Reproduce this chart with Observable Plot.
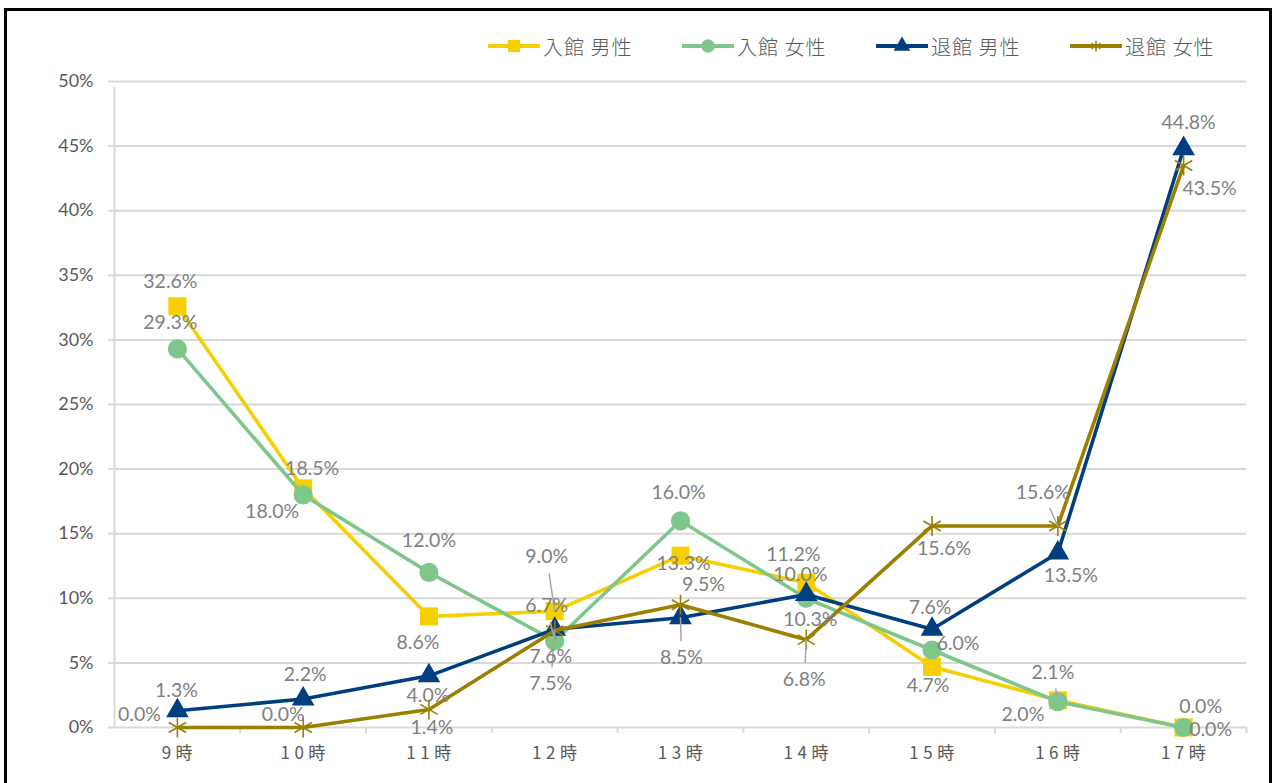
<!DOCTYPE html>
<html><head><meta charset="utf-8">
<script src="https://cdn.jsdelivr.net/npm/d3@7"></script>
<script src="https://cdn.jsdelivr.net/npm/@observablehq/plot@0.6"></script>
<style>
html,body{margin:0;padding:0;background:#fff;}
#page{position:relative;width:1276px;height:783px;overflow:hidden;background:#fff;}
#frame{position:absolute;left:4px;top:8px;width:1268px;height:800px;border:3px solid #000;box-sizing:border-box;pointer-events:none;z-index:2;}
#legend{position:absolute;left:488px;top:34px;height:24px;display:flex;font-family:"Noto Sans CJK JP",sans-serif;font-size:20px;letter-spacing:1px;color:#595959;font-weight:300;}
.item{display:flex;align-items:center;width:194px;white-space:nowrap;}
.item svg{margin-right:3px;}
#chart{position:absolute;left:0;top:60px;}
#chart g[aria-label="x-axis tick label"] text{letter-spacing:4.5px;}
</style></head>
<body><div id="page"><div id="frame"></div><div id="legend"></div><div id="chart"></div></div>
<script>
// ---- data ----
const hours = ["9時","10時","11時","12時","13時","14時","15時","16時","17時"];
const seriesNames = ["入館 男性","入館 女性","退館 男性","退館 女性"];
const inMale    = [32.6, 18.5, 8.6, 9.0, 13.3, 11.2, 4.7, 2.1, 0.0];
const inFemale  = [29.3, 18.0, 12.0, 6.7, 16.0, 10.0, 6.0, 2.0, 0.0];
const outMale   = [1.3, 2.2, 4.0, 7.6, 8.5, 10.3, 7.6, 13.5, 44.8];
const outFemale = [0.0, 0.0, 1.4, 7.5, 9.5, 6.8, 15.6, 15.6, 43.5];
const yTicks = [0, 5, 10, 15, 20, 25, 30, 35, 40, 45, 50];

// ---- styling ----
const colors = ["#F5CF00", "#7EC68A", "#003F7F", "#9A7F00"];
const symbols = ["square", "circle", "triangle", "asterisk"];
const symbolR = [10.2, 9.6, 8.4, 9.5];
// label offsets [dx, dy] in pixels relative to the marker
const labelOffsets = [
  [[-7,-25],[9,-20],[-11,26],[-8,-54],[3,8],[-13,-28],[-4,19],[-5,-28],[17,-21]],
  [[-7,-26],[-31,17],[0,-32],[-8,-35],[-2,-28],[-6,-24],[26,-6],[-35,13],[27,2]],
  [[-1,-20],[2,-24],[-1,20],[-4,27],[1,40],[4,25],[-2,-22],[13,23],[5,-26]],
  [[-38,-13],[-20,-13],[3,18],[-4,53],[23,-20],[-2,40],[12,23],[-15,-33],[26,23]]
];
// leader lines: [series index, hour index]
const leaders = [[0,3],[1,3],[3,3],[2,4],[3,5],[3,7],[0,7]];

const seriesValues = [inMale, inFemale, outMale, outFemale];
const rows = [];
seriesNames.forEach((s, si) => hours.forEach((h, hi) => rows.push({series: s, si, hour: h, hi, value: seriesValues[si][hi]})));

const W = 1276, H = 723, mL = 114, mR = 30, mT = 21, mB = 56;
const bw = (W - mL - mR) / hours.length;
const numFont = "Lato, 'Open Sans', sans-serif";

const marks = [];
marks.push(Plot.gridY(yTicks, {stroke: "#d9d9d9", strokeOpacity: 1, strokeWidth: 2}));
marks.push(Plot.axisY(yTicks, {tickSize: 6, tickPadding: 15, stroke: "#d9d9d9", strokeWidth: 2, fill: "#595959", fontSize: 18, fontFamily: numFont, tickFormat: d => d + "%", label: null}));
// vertical axis line at left edge
marks.push(Plot.ruleX([hours[0]], {y1: 0, y2: 50, dx: -bw/2, insetBottom: -6, stroke: "#d9d9d9", strokeWidth: 2}));
// category boundary ticks
marks.push(Plot.ruleX(hours.slice(1), {y1: 0, y2: 0, dx: -bw/2, insetBottom: -6, stroke: "#d9d9d9", strokeWidth: 2}));
marks.push(Plot.ruleX([hours[hours.length-1]], {y1: 0, y2: 0, dx: bw/2, insetBottom: -6, stroke: "#d9d9d9", strokeWidth: 2}));
marks.push(Plot.axisX({tickSize: 0, tickPadding: 19, fill: "#595959", fontSize: 17, fontFamily: "'Noto Sans CJK JP', sans-serif", label: null, dx: 2}));

seriesNames.forEach((s, si) => {
  const d = rows.filter(r => r.si === si);
  marks.push(Plot.line(d, {x: "hour", y: "value", stroke: colors[si], strokeWidth: 3.6, strokeLinejoin: "round"}));
  if (symbols[si] === "asterisk") {
    marks.push(Plot.dot(d, {x: "hour", y: "value", symbol: "asterisk", r: symbolR[si], stroke: colors[si], strokeWidth: 1.6, fill: "none"}));
  } else {
    marks.push(Plot.dot(d, {x: "hour", y: "value", symbol: symbols[si], r: symbolR[si], fill: colors[si], stroke: "none"}));
  }
});

// leader lines
leaders.forEach(([si, hi]) => {
  const [dx, dy] = labelOffsets[si][hi];
  const dist = Math.hypot(dx, dy);
  const r = rows.find(x => x.si === si && x.hi === hi);
  marks.push(Plot.vector([r], {x: "hour", y: "value", length: Math.max(dist - 17, 4), rotate: Math.atan2(dx, -dy) * 180 / Math.PI, anchor: "start", stroke: "#a6a6a6", strokeWidth: 1.5,
    shape: {draw(context, l) { context.moveTo(0, 0); context.lineTo(0, -l); }}}));
});

// data labels
rows.forEach(r => {
  const [dx, dy] = labelOffsets[r.si][r.hi];
  marks.push(Plot.text([r], {x: "hour", y: "value", text: d => d.value.toFixed(1) + "%", dx, dy, fill: "#808080", fontSize: 19.5, fontFamily: numFont}));
});

const chart = Plot.plot({
  width: W, height: H,
  marginLeft: mL, marginRight: mR, marginTop: mT, marginBottom: mB,
  x: {type: "band", domain: hours, padding: 0, round: false, label: null},
  y: {domain: [0, 50], label: null},
  style: {background: "transparent", color: "#595959"},
  marks
});
document.getElementById("chart").appendChild(chart);

// legend
const legend = document.getElementById("legend");
const legendSym = [
  d3.symbol(d3.symbolSquare, 150),
  d3.symbol(d3.symbolCircle, 140),
  d3.symbol(d3.symbolTriangle, 120),
  d3.symbol(d3.symbolAsterisk, 80)
];
seriesNames.forEach((s, si) => {
  const item = document.createElement("div");
  item.className = "item";
  const svg = d3.create("svg").attr("width", 52).attr("height", 24);
  svg.append("line").attr("x1", 0).attr("x2", 52).attr("y1", 12).attr("y2", 12).attr("stroke", colors[si]).attr("stroke-width", 4);
  const p = svg.append("path").attr("transform", "translate(26,12)").attr("d", legendSym[si]());
  if (si === 3) p.attr("fill", "none").attr("stroke", colors[si]).attr("stroke-width", 1.6);
  else p.attr("fill", colors[si]);
  item.appendChild(svg.node());
  const t = document.createElement("span");
  t.textContent = s;
  item.appendChild(t);
  legend.appendChild(item);
});
</script></body></html>
